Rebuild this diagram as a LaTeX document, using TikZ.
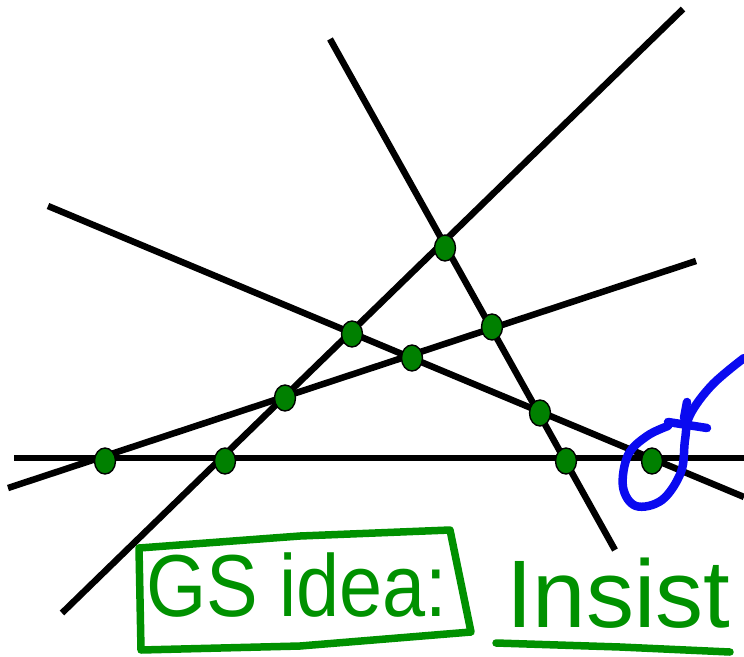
\documentclass[tikz,border=0pt]{standalone}
\usepackage{fontspec}
\setmainfont{Liberation Sans}
\usetikzlibrary{shapes.geometric, positioning}
\definecolor{dotgreen}{RGB}{0,128,0}
\definecolor{inkgreen}{RGB}{0,145,0}
\definecolor{inkblue}{RGB}{10,10,240}

\begin{document}
\begin{tikzpicture}[
    x=1pt, y=-1pt,
    line/.style={line width=6.5pt, black},
    dot/.style={
        ellipse, draw=black, line width=1.4pt, fill=dotgreen,
        minimum width=21pt, minimum height=26pt, inner sep=0pt
    },
    pen/.style={line width=7.5pt, line cap=round, line join=round},
    hand/.style={inkgreen, inner sep=0pt}
]
    \useasboundingbox (0,0) rectangle (744,656);

    % line end points
    \coordinate (h1) at (14,458);   \coordinate (h2) at (744,458);
    \coordinate (a1) at (48,206);   \coordinate (a2) at (744,497);
    \coordinate (b1) at (330,39);   \coordinate (b2) at (615,550);
    \coordinate (c1) at (683,9);    \coordinate (c2) at (62,613);
    \coordinate (d1) at (8,488);    \coordinate (d2) at (696,261);

    \draw[line] (h1) -- (h2);
    \draw[line] (a1) -- (a2);
    \draw[line] (b1) -- (b2);
    \draw[line] (c1) -- (c2);
    \draw[line] (d1) -- (d2);

    % crossings
    \node[dot] (top)   at (445,248) {};
    \node[dot] (mleft) at (352,334) {};
    \node[dot] (mright) at (492,327) {};
    \node[dot] (mid)   at (412,358) {};
    \node[dot] (lowl)  at (285,398) {};
    \node[dot] (lowr)  at (540,413) {};
    \node[dot] (h-a)   at (105,461) {};
    \node[dot] (h-b)   at (225,461) {};
    \node[dot] (h-c)   at (566,461) {};
    \node[dot] (h-d)   at (652,461) {};

    % blue circle with arrow
    \draw[pen, inkblue, line width=8.5pt] plot[smooth, tension=0.6] coordinates {
        (744,358) (712,385) (690,415) (685,440) (681,472) (662,500)
        (636,506) (623,487) (628,455) (647,436) (668,426)};
    \draw[pen, inkblue, line width=8.5pt] (687,402) -- (684,418);
    \draw[pen, inkblue, line width=8.5pt] (668,422) -- (707,428);

    % green note
    \node[hand, font=\fontsize{88}{88}\selectfont, xscale=0.88, anchor=base west]
        (idea) at (146,616) {GS idea:};
    \draw[pen, inkgreen] (139,548) -- (300,536) -- (450,530)
        -- (471,632) -- (300,646) -- (141,650) -- cycle;
    \node[hand, font=\fontsize{96}{96}\selectfont, anchor=base west]
        (insist) at (506,627) {Insist};
    \draw[pen, inkgreen] (496,643) -- (620,647) -- (730,652);
\end{tikzpicture}
\end{document}
